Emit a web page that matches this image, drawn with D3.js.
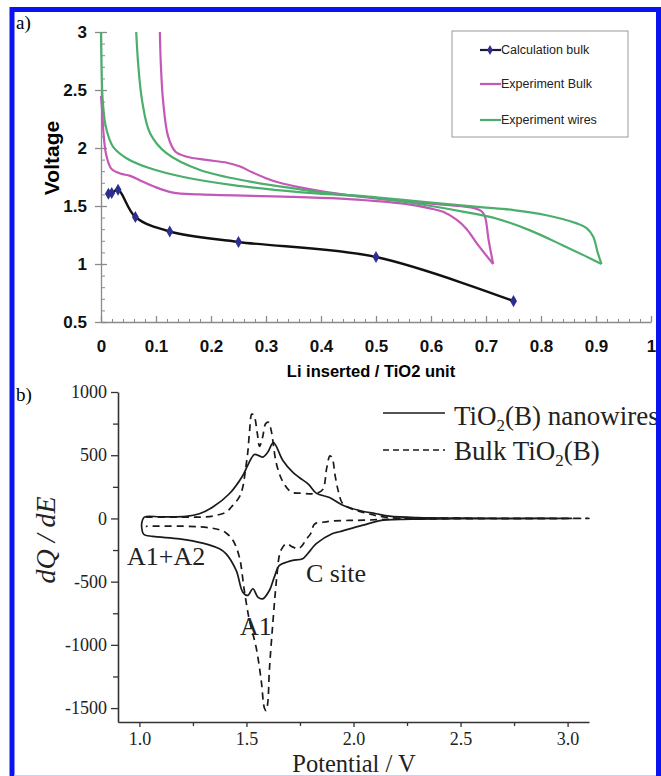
<!DOCTYPE html>
<html>
<head>
<meta charset="utf-8">
<script src="https://cdn.jsdelivr.net/npm/d3@7"></script>
<style>
  body { margin: 0; background: #fff; }
  svg { display: block; }
</style>
</head>
<body>
<svg id="chart"></svg>
<script>
// ---- panel a) data : Li inserted / TiO2 unit vs Voltage ----
let voltTicks = [0.5, 1, 1.5, 2, 2.5, 3];
let liTicks = [0, 0.1, 0.2, 0.3, 0.4, 0.5, 0.6, 0.7, 0.8, 0.9, 1];

let calcX = [0.0135, 0.0195, 0.031, 0.0625, 0.125, 0.25, 0.5, 0.75];
let calcV = [1.605, 1.612, 1.64, 1.405, 1.28, 1.19, 1.06, 0.68];

let bulkDischarge = [[0.0, 2.45], [0.002, 2.33], [0.005, 2.1], [0.01, 1.93], [0.019, 1.82], [0.035, 1.78],
  [0.053, 1.76], [0.071, 1.72], [0.095, 1.67], [0.131, 1.615], [0.18, 1.6], [0.35, 1.578], [0.45, 1.56],
  [0.55, 1.52], [0.598, 1.48], [0.622, 1.45], [0.647, 1.38], [0.665, 1.3], [0.683, 1.18], [0.713, 1.0]];
let bulkCharge = [[0.713, 1.0], [0.705, 1.2], [0.698, 1.41], [0.692, 1.455], [0.68, 1.48], [0.6, 1.52],
  [0.5, 1.565], [0.41, 1.62], [0.362, 1.66], [0.325, 1.7], [0.3, 1.74], [0.275, 1.79], [0.253, 1.84],
  [0.229, 1.873], [0.192, 1.897], [0.156, 1.925], [0.135, 1.97], [0.122, 2.1], [0.113, 2.4], [0.109, 2.7], [0.107, 3.0]];
let wiresDischarge = [[0.0, 3.0], [0.001, 2.7], [0.003, 2.42], [0.008, 2.2], [0.015, 2.08], [0.022, 2.01],
  [0.047, 1.91], [0.089, 1.825], [0.15, 1.75], [0.24, 1.68], [0.36, 1.62], [0.5, 1.57], [0.6, 1.5],
  [0.66, 1.45], [0.72, 1.39], [0.78, 1.29], [0.84, 1.16], [0.88, 1.07], [0.91, 1.0]];
let wiresCharge = [[0.91, 1.0], [0.903, 1.1], [0.895, 1.235], [0.883, 1.31], [0.865, 1.35], [0.81, 1.42],
  [0.75, 1.465], [0.69, 1.49], [0.6, 1.53], [0.5, 1.575], [0.416, 1.61], [0.36, 1.645], [0.271, 1.71],
  [0.18, 1.81], [0.119, 1.955], [0.089, 2.13], [0.075, 2.4], [0.068, 2.7], [0.064, 3.0]];

let legendA = ["Calculation bulk", "Experiment Bulk", "Experiment wires"];

// ---- panel b) data : dQ/dE vs potential ----
let cvTicksX = [1.0, 1.5, 2.0, 2.5, 3.0];
let cvMinorX = [1.25, 1.75, 2.25, 2.75];
let cvTicksY = [1000, 500, 0, -500, -1000, -1500];
let cvMinorY = [750, 250, -250, -750, -1250];

let wiresAnodic = [[1.01, -50], [1.023, 10], [1.1, 12], [1.218, 16], [1.28, 37], [1.343, 90], [1.42, 195],
  [1.483, 340], [1.506, 420], [1.537, 506], [1.56, 495], [1.576, 485], [1.6, 525], [1.626, 600], [1.67, 459],
  [1.716, 366], [1.748, 322], [1.79, 270], [1.826, 200], [1.888, 165], [1.95, 105], [2.028, 63], [2.106, 37],
  [2.168, 18], [2.3, 6], [2.5, 2], [3.02, 0]];
let wiresCathodic = [[3.02, 0], [2.5, -2], [2.3, -5], [2.2, -8], [2.13, -16], [2.04, -55], [1.935, -105],
  [1.9, -121], [1.826, -200], [1.79, -270], [1.763, -318], [1.716, -332], [1.69, -345], [1.654, -372],
  [1.63, -464], [1.607, -570], [1.576, -636], [1.553, -622], [1.53, -556], [1.506, -609], [1.483, -583],
  [1.452, -411], [1.405, -280], [1.374, -240], [1.296, -195], [1.187, -161], [1.062, -142], [1.02, -125], [1.01, -50]];
let bulkAnodic = [[1.03, 10], [1.2, 10], [1.31, 12], [1.358, 24], [1.405, 50], [1.436, 103], [1.467, 170],
  [1.483, 248], [1.495, 380], [1.506, 520], [1.515, 700], [1.525, 825], [1.535, 815], [1.55, 680],
  [1.561, 570], [1.575, 640], [1.59, 750], [1.603, 760], [1.615, 700], [1.64, 433], [1.67, 290],
  [1.71, 208], [1.748, 200], [1.794, 195], [1.83, 200], [1.857, 230], [1.875, 400], [1.89, 495],
  [1.9, 480], [1.915, 330], [1.93, 210], [1.95, 116], [2.0, 70], [2.04, 50], [2.15, 10], [2.4, 3], [3.1, 0]];
let bulkCathodic = [[3.1, 0], [2.4, -3], [2.15, -8], [2.05, -14], [1.98, -16], [1.9, -20], [1.857, -30],
  [1.818, -45], [1.8, -120], [1.779, -165], [1.76, -215], [1.74, -240], [1.715, -225], [1.686, -200],
  [1.665, -240], [1.654, -290], [1.64, -490], [1.623, -833], [1.607, -1203], [1.6, -1450], [1.592, -1520],
  [1.584, -1500], [1.569, -1282], [1.545, -1018], [1.514, -807], [1.49, -570], [1.467, -306], [1.436, -170],
  [1.405, -115], [1.374, -90], [1.28, -66], [1.03, -62]];

let legendB = ["nanowires", "Bulk "];

// ---------------------------------------------------------------
let W = 661, H = 776;
let svg = d3.select("#chart").attr("width", W).attr("height", H);
let sans = "'Liberation Sans', Arial, sans-serif";
let serif = "'Liberation Serif', 'Times New Roman', serif";
let magenta = "#c458b8", green = "#4cae6c", navy = "#2c2f8f";

// ================= panel a =================
let xA = d3.scaleLinear().domain([0, 1]).range([101, 651]);
let yA = d3.scaleLinear().domain([0.5, 3]).range([322, 32]);
let axisGrey = "#8a8a8a";

// minor ticks
svg.append("g")
    .attr("transform", "translate(" + xA(0) + ",0)")
    .call(d3.axisRight(yA).tickValues(d3.range(0.5, 3.001, 0.1)).tickSize(4).tickFormat(""))
    .call(g => g.select(".domain").remove())
    .call(g => g.selectAll("line").attr("stroke", axisGrey));
svg.append("g")
    .attr("transform", "translate(0," + yA(0.5) + ")")
    .call(d3.axisBottom(xA).tickValues(d3.range(0, 1.0001, 0.02)).tickSize(-3).tickFormat(""))
    .call(g => g.select(".domain").remove())
    .call(g => g.selectAll("line").attr("stroke", axisGrey));

let gYA = svg.append("g")
    .attr("transform", "translate(" + xA(0) + ",0)")
    .call(d3.axisLeft(yA).tickValues(voltTicks).tickSize(6).tickSizeOuter(0).tickPadding(8)
        .tickFormat(d => String(d)));
gYA.selectAll(".tick line").attr("x1", 6).attr("x2", -6);
let gXA = svg.append("g")
    .attr("transform", "translate(0," + yA(0.5) + ")")
    .call(d3.axisBottom(xA).tickValues(liTicks).tickSize(-6).tickSizeOuter(0).tickPadding(18)
        .tickFormat(d => String(+d.toFixed(1))));
[gYA, gXA].forEach(g => {
    g.select(".domain").attr("stroke", axisGrey).attr("stroke-width", 1.3);
    g.selectAll(".tick line").attr("stroke", axisGrey).attr("stroke-width", 1.3);
    g.selectAll("text").attr("font-family", sans).attr("font-weight", "bold")
        .attr("font-size", 17).attr("fill", "#111");
});

let lineA = d3.line()
    .x(d => xA(d[0]))
    .y(d => yA(d[1]))
    .curve(d3.curveCatmullRom.alpha(0.5));

[[bulkDischarge, magenta], [bulkCharge, magenta], [wiresDischarge, green], [wiresCharge, green]]
    .forEach(function(s) {
        svg.append("path")
            .datum(s[0])
            .attr("d", lineA)
            .attr("fill", "none")
            .attr("stroke", s[1])
            .attr("stroke-width", 2.2);
    });

let calc = calcX.map((x, i) => [x, calcV[i]]);
svg.append("path")
    .datum(calc)
    .attr("d", lineA)
    .attr("fill", "none")
    .attr("stroke", "#111")
    .attr("stroke-width", 2.4);
let diamond = d3.symbol().type(d3.symbolDiamond).size(42);
svg.selectAll(".calcpt")
    .data(calc)
    .enter().append("path")
    .attr("class", "calcpt")
    .attr("transform", d => "translate(" + xA(d[0]) + "," + yA(d[1]) + ")")
    .attr("d", diamond)
    .attr("fill", navy);

svg.append("text")
    .attr("transform", "translate(59,158) rotate(-90)")
    .attr("text-anchor", "middle")
    .attr("font-family", sans).attr("font-weight", "bold").attr("font-size", 21)
    .text("Voltage");
svg.append("text")
    .attr("x", 371).attr("y", 377)
    .attr("text-anchor", "middle")
    .attr("font-family", sans).attr("font-weight", "bold").attr("font-size", 16.5)
    .text("Li inserted / TiO2 unit");
svg.append("text")
    .attr("x", 16).attr("y", 29)
    .attr("font-family", serif).attr("font-size", 19)
    .text("a)");

// legend a
let legA = svg.append("g");
legA.append("rect")
    .attr("x", 452).attr("y", 31).attr("width", 176).attr("height", 106)
    .attr("fill", "#fff").attr("stroke", "#9a9a9a").attr("stroke-width", 1);
let legColors = ["#1a1a3a", magenta, green];
let legY = [50, 84, 120];
legendA.forEach(function(t, i) {
    legA.append("line")
        .attr("x1", 480).attr("x2", 501).attr("y1", legY[i]).attr("y2", legY[i])
        .attr("stroke", legColors[i]).attr("stroke-width", 2.2);
    if (i === 0) {
        legA.append("path")
            .attr("transform", "translate(490," + legY[i] + ")")
            .attr("d", d3.symbol().type(d3.symbolDiamond).size(28))
            .attr("fill", navy);
    }
    legA.append("text")
        .attr("x", 501).attr("y", legY[i]).attr("dy", "0.35em")
        .attr("font-family", sans).attr("font-size", 12.5).attr("fill", "#222")
        .text(t);
});

// ================= panel b =================
let xB = d3.scaleLinear().domain([0.9, 3.1]).range([118, 589]);
let yB = d3.scaleLinear().domain([-1610, 1000]).range([722, 392]);

svg.append("g")
    .attr("transform", "translate(" + xB(0.9) + ",0)")
    .call(d3.axisLeft(yB).tickValues(cvMinorY).tickSize(5).tickFormat(""))
    .call(g => g.select(".domain").remove())
    .call(g => g.selectAll("line").attr("stroke", "#333").attr("stroke-width", 1.3));
svg.append("g")
    .attr("transform", "translate(0," + yB(-1610) + ")")
    .call(d3.axisBottom(xB).tickValues(cvMinorX).tickSize(4).tickFormat(""))
    .call(g => g.select(".domain").remove())
    .call(g => g.selectAll("line").attr("stroke", "#333").attr("stroke-width", 1.3));

let gYB = svg.append("g")
    .attr("transform", "translate(" + xB(0.9) + ",0)")
    .call(d3.axisLeft(yB).tickValues(cvTicksY).tickSize(7).tickSizeOuter(0).tickPadding(4)
        .tickFormat(d => String(d)));
let gXB = svg.append("g")
    .attr("transform", "translate(0," + yB(-1610) + ")")
    .call(d3.axisBottom(xB).tickValues(cvTicksX).tickSize(5).tickSizeOuter(0).tickPadding(5)
        .tickFormat(d3.format(".1f")));
[gYB, gXB].forEach(g => {
    g.select(".domain").attr("stroke", "#333").attr("stroke-width", 1.6);
    g.selectAll(".tick line").attr("stroke", "#333").attr("stroke-width", 1.3);
    g.selectAll("text").attr("font-family", serif).attr("font-size", 18).attr("fill", "#222");
});

let lineB = d3.line()
    .x(d => xB(d[0]))
    .y(d => yB(d[1]))
    .curve(d3.curveCatmullRom.alpha(0.5));

svg.append("path")
    .datum(wiresAnodic.concat(wiresCathodic.slice(1)))
    .attr("d", lineB)
    .attr("fill", "none")
    .attr("stroke", "#1a1a1a")
    .attr("stroke-width", 1.7);
svg.append("path")
    .datum(bulkAnodic.concat(bulkCathodic.slice(1)))
    .attr("d", lineB)
    .attr("fill", "none")
    .attr("stroke", "#1a1a1a")
    .attr("stroke-width", 1.7)
    .attr("stroke-dasharray", "7,5");

// annotations
[["A1+A2", 127, 565], ["C site", 306, 582], ["A1", 240, 635]].forEach(function(a) {
    svg.append("text")
        .attr("x", a[1]).attr("y", a[2])
        .attr("font-family", serif).attr("font-size", 26).attr("fill", "#222")
        .text(a[0]);
});

svg.append("text")
    .attr("transform", "translate(55,540) rotate(-90)")
    .attr("text-anchor", "middle")
    .attr("font-family", serif).attr("font-style", "italic").attr("font-size", 28).attr("fill", "#222")
    .text("dQ / dE");
svg.append("text")
    .attr("x", 354).attr("y", 771.5)
    .attr("text-anchor", "middle")
    .attr("font-family", serif).attr("font-size", 24.5).attr("fill", "#222")
    .text("Potential / V");
svg.append("text")
    .attr("x", 16).attr("y", 401)
    .attr("font-family", serif).attr("font-size", 19)
    .text("b)");

// legend b
let legB = svg.append("g").attr("font-family", serif).attr("font-size", 27).attr("fill", "#222");
legB.append("line")
    .attr("x1", 383).attr("x2", 445).attr("y1", 413).attr("y2", 413)
    .attr("stroke", "#1a1a1a").attr("stroke-width", 1.6);
legB.append("line")
    .attr("x1", 383).attr("x2", 445).attr("y1", 450).attr("y2", 450)
    .attr("stroke", "#1a1a1a").attr("stroke-width", 1.6).attr("stroke-dasharray", "6,4");
let t1 = legB.append("text").attr("x", 454).attr("y", 425);
t1.append("tspan").text("TiO");
t1.append("tspan").attr("font-size", 17).attr("dy", 6).text("2");
t1.append("tspan").attr("dy", -6).text("(B) " + legendB[0]);
let t2 = legB.append("text").attr("x", 454).attr("y", 460);
t2.append("tspan").text(legendB[1] + "TiO");
t2.append("tspan").attr("font-size", 17).attr("dy", 6).text("2");
t2.append("tspan").attr("dy", -6).text("(B)");

// blue frame
svg.append("rect")
    .attr("x", 12).attr("y", 9.5).attr("width", 646.5).attr("height", 780)
    .attr("fill", "none").attr("stroke", "#0a14f0").attr("stroke-width", 5);
svg.append("line")
    .attr("x1", 14).attr("x2", 656).attr("y1", 775.5).attr("y2", 775.5)
    .attr("stroke", "#c9cff5").attr("stroke-width", 1);
</script>
</body>
</html>
